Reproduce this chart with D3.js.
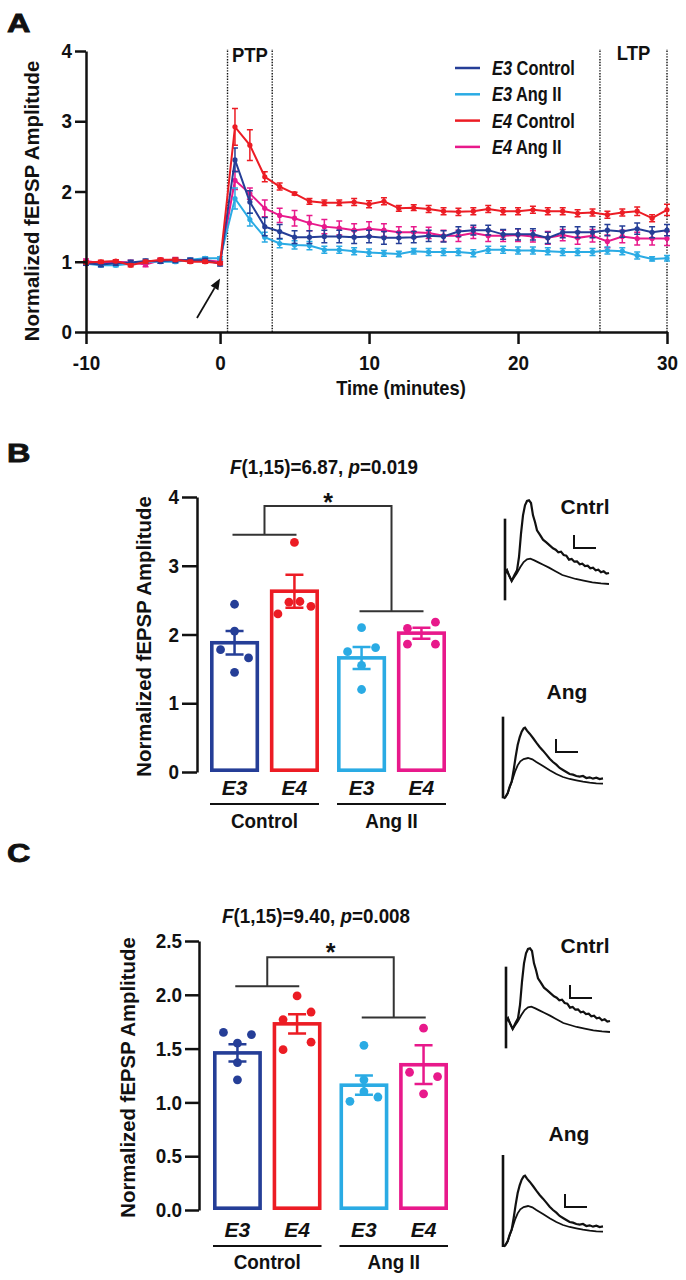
<!DOCTYPE html>
<html>
<head>
<meta charset="utf-8">
<script src="https://cdn.jsdelivr.net/npm/d3@7"></script>
<style>
    body { margin: 0; background: #fff; }
    svg text { font-family: "Liberation Sans", Arial, Helvetica, sans-serif; font-weight: bold; fill: #111; }
</style>
</head>
<body>
<div id="chart"></div>
<script>
(function() {

    // ---------- panel A: time course (mean, SEM) ----------
    var timePoints = [-9, -8, -7, -6, -5, -4, -3, -2, -1, 0,
        1, 2, 3, 4, 5, 6, 7, 8, 9, 10, 11, 12, 13, 14, 15, 16, 17, 18, 19, 20,
        21, 22, 23, 24, 25, 26, 27, 28, 29, 30];

    var e3ControlMean = [0.98, 0.96, 0.98, 0.99, 1.01, 1.01, 1.02, 1.02, 1.02, 0.97,
        2.45, 1.85, 1.50, 1.43, 1.35, 1.35, 1.36, 1.36, 1.35, 1.36,
        1.34, 1.34, 1.35, 1.37, 1.36, 1.43, 1.45, 1.45, 1.39, 1.39,
        1.39, 1.34, 1.42, 1.42, 1.42, 1.45, 1.43, 1.47, 1.42, 1.45];
    var e3ControlSem = [0.03, 0.03, 0.03, 0.03, 0.03, 0.03, 0.03, 0.03, 0.03, 0.03,
        0.17, 0.16, 0.13, 0.10, 0.09, 0.09, 0.09, 0.09, 0.09, 0.09,
        0.09, 0.08, 0.08, 0.08, 0.08, 0.07, 0.07, 0.07, 0.07, 0.08,
        0.08, 0.08, 0.08, 0.08, 0.08, 0.08, 0.08, 0.08, 0.08, 0.08];

    var e3AngMean = [0.97, 0.95, 0.95, 0.97, 1.00, 1.00, 1.00, 1.03, 1.05, 1.05,
        1.90, 1.60, 1.35, 1.26, 1.24, 1.23, 1.17, 1.17, 1.15, 1.13,
        1.12, 1.11, 1.15, 1.14, 1.14, 1.14, 1.12, 1.17, 1.17, 1.16,
        1.16, 1.15, 1.14, 1.14, 1.14, 1.16, 1.15, 1.09, 1.04, 1.05];
    var e3AngSem = [0.02, 0.02, 0.02, 0.02, 0.02, 0.02, 0.02, 0.02, 0.02, 0.02,
        0.15, 0.09, 0.07, 0.06, 0.06, 0.06, 0.05, 0.05, 0.05, 0.05,
        0.04, 0.04, 0.04, 0.05, 0.05, 0.05, 0.05, 0.05, 0.05, 0.05,
        0.05, 0.05, 0.05, 0.05, 0.05, 0.05, 0.05, 0.05, 0.03, 0.04];

    var e4ControlMean = [0.99, 1.00, 1.01, 0.95, 1.00, 1.03, 1.03, 1.00, 1.00, 0.98,
        2.92, 2.66, 2.21, 2.07, 1.97, 1.86, 1.84, 1.84, 1.85, 1.82,
        1.86, 1.76, 1.77, 1.75, 1.72, 1.71, 1.72, 1.75, 1.72, 1.72,
        1.74, 1.72, 1.72, 1.69, 1.70, 1.67, 1.70, 1.72, 1.62, 1.74];
    var e4ControlSem = [0.02, 0.02, 0.02, 0.02, 0.02, 0.02, 0.02, 0.02, 0.02, 0.02,
        0.26, 0.22, 0.07, 0.05, 0.02, 0.04, 0.04, 0.04, 0.05, 0.05,
        0.05, 0.04, 0.04, 0.05, 0.05, 0.05, 0.05, 0.05, 0.05, 0.05,
        0.05, 0.05, 0.05, 0.05, 0.05, 0.05, 0.05, 0.06, 0.05, 0.08];

    var e4AngMean = [1.01, 0.98, 1.00, 0.99, 0.96, 1.02, 1.03, 1.02, 1.02, 1.00,
        2.16, 1.97, 1.76, 1.66, 1.62, 1.55, 1.50, 1.48, 1.45, 1.47,
        1.45, 1.42, 1.42, 1.41, 1.37, 1.37, 1.41, 1.37, 1.37, 1.38,
        1.36, 1.34, 1.38, 1.34, 1.37, 1.29, 1.36, 1.33, 1.33, 1.33];
    var e4AngSem = [0.03, 0.03, 0.03, 0.03, 0.03, 0.03, 0.03, 0.03, 0.03, 0.03,
        0.13, 0.08, 0.12, 0.10, 0.11, 0.11, 0.10, 0.10, 0.09, 0.10,
        0.09, 0.08, 0.08, 0.08, 0.08, 0.08, 0.08, 0.08, 0.08, 0.09,
        0.08, 0.09, 0.08, 0.09, 0.09, 0.09, 0.09, 0.09, 0.09, 0.10];

    var timeTicks = [-9, 0, 10, 20, 30];
    var windowEdges = [0.5, 3.5, 25.5, 30];

    // ---------- panels B and C: bars, individual slices ----------
    var groups = ["Control", "Ang II"];
    var genotypes = ["E3", "E4"];

    var ptpMean = [1.88, 2.63, 1.66, 2.02];
    var ptpSem = [0.17, 0.24, 0.16, 0.08];
    var ptpPoints = [
        [1.78, 1.45, 2.05, 2.44, 1.66],
        [2.30, 2.47, 3.34, 2.48, 2.41],
        [1.75, 1.20, 2.10, 1.55, 1.81],
        [2.09, 1.86, 2.18, 1.86]
    ];

    var ltpMean = [1.46, 1.73, 1.16, 1.35];
    var ltpSem = [0.08, 0.09, 0.09, 0.18];
    var ltpPoints = [
        [1.65, 1.55, 1.37, 1.21, 1.63],
        [1.77, 1.49, 1.99, 1.56, 1.84],
        [1.01, 1.53, 1.21, 1.10, 1.05],
        [1.28, 1.69, 1.08, 1.24]
    ];

    // representative fEPSP traces, [time, voltage] in arbitrary units
    var cntrlBig = [[0, 10], [6, 20], [12, 5], [20, -12], [28, 5], [36, 20], [42, 60], [48, 130],
        [54, 185], [60, 215], [66, 228], [72, 230], [78, 222], [84, 185], [90, 165], [96, 140],
        [104, 128], [114, 112], [124, 104], [134, 95], [144, 86], [152, 82], [160, 74], [168, 76],
        [176, 66], [184, 64], [192, 52], [200, 54], [208, 46], [216, 47], [224, 38], [232, 40],
        [240, 33], [248, 34], [256, 26], [264, 28], [272, 20], [280, 22], [288, 14], [296, 17],
        [304, 10], [312, 12]];
    var cntrlSmall = [[0, 10], [6, 20], [12, 5], [20, -12], [28, 0], [36, 12], [46, 30], [56, 45],
        [66, 53], [76, 55], [88, 50], [100, 44], [116, 36], [132, 28], [150, 18], [172, 6],
        [192, 0], [212, -6], [236, -11], [262, -16], [288, -19], [312, -21]];
    var angBig = [[3, -56], [8, -50], [14, -40], [20, -20], [26, -5], [32, 30], [38, 70], [44, 105],
        [50, 128], [56, 145], [62, 155], [66, 157], [72, 148], [80, 139], [90, 126], [100, 112],
        [110, 99], [120, 88], [130, 76], [140, 64], [150, 54], [160, 46], [170, 36], [180, 30],
        [190, 24], [200, 18], [210, 16], [220, 12], [230, 10], [240, 12], [250, 6], [260, 8],
        [270, 4], [280, 7], [290, 3], [300, 5]];
    var angSmall = [[3, -56], [8, -50], [14, -40], [20, -22], [28, 0], [36, 25], [44, 44], [52, 56],
        [62, 63], [75, 66], [88, 62], [100, 54], [120, 42], [140, 29], [160, 18], [180, 9],
        [200, 3], [220, -1], [240, -5], [260, -8], [280, -10], [300, -11]];

    var colors = {
        "E3 Control": "#253e97",
        "E3 Ang II": "#2aabe4",
        "E4 Control": "#ec1c24",
        "E4 Ang II": "#e8198b"
    };

    var svg = d3.select("#chart")
        .append("svg")
        .attr("width", 686)
        .attr("height", 1280);

    drawTimeCourse();

    drawBarPanel({
        letter: "B", letterY: 462,
        means: ptpMean, sems: ptpSem, points: ptpPoints,
        yDomain: [0, 4], yRange: [772, 497], yTicks: [0, 1, 2, 3, 4], yFormat: d3.format("d"),
        axisX: 197, xRange: [210, 446], tickSize: 15,
        titleX: 324, titleY: 474, stat: ["(1,15)=6.87, ", "=0.019"],
        bracket: [3.45, 3.87, 2.34], starY: 511,
        genoY: 795, lineY: 804, groupY: 828, yLabelX: 151
    });
    drawBarPanel({
        letter: "C", letterY: 862,
        means: ltpMean, sems: ltpSem, points: ltpPoints,
        yDomain: [0, 2.5], yRange: [1210, 941], yTicks: [0, 0.5, 1, 1.5, 2, 2.5], yFormat: d3.format(".1f"),
        axisX: 199, xRange: [213, 448], tickSize: 14,
        titleX: 316, titleY: 923, stat: ["(1,15)=9.40, ", "=0.008"],
        bracket: [2.08, 2.35, 1.79], starY: 961,
        genoY: 1237, lineY: 1246, groupY: 1269, yLabelX: 135
    });

    drawTrace({ artX: 505, baseY: 577, art: [175, -70], big: cntrlBig, small: cntrlSmall,
        label: "Cntrl", labelX: 585, labelY: 514, bar: [574, 535] });
    drawTrace({ artX: 503, baseY: 780, art: [190, -55], big: angBig, small: angSmall,
        label: "Ang", labelX: 567, labelY: 699, bar: [556, 739] });
    drawTrace({ artX: 506, baseY: 1025, art: [175, -70], big: cntrlBig, small: cntrlSmall,
        label: "Cntrl", labelX: 585, labelY: 953, bar: [570, 985] });
    drawTrace({ artX: 503, baseY: 1228, art: [219, -57], big: angBig, small: angSmall,
        label: "Ang", labelX: 569, labelY: 1141, bar: [565, 1194] });

    // the figure uses a slightly condensed bold face: squeeze text horizontally
    // (scale along the text direction, keeping the anchor point in place)
    function squeeze(sel, k) {
        sel.each(function() {
            var t = d3.select(this);
            var x = +(t.attr("x") || 0);
            var tr = t.attr("transform") || "";
            t.attr("x", x / k).attr("transform", tr + " scale(" + k + ",1)");
        });
    }

    // make d3 axes look like the Prism ones
    function styleAxis(g, size) {
        g.attr("font-size", size).attr("font-family", null);
        g.selectAll("path, line").attr("stroke", "#111").attr("stroke-width", 2.5);
        g.selectAll("text").attr("fill", "#111");
        squeeze(g.selectAll("text"), 0.9);
    }

    function panelLetter(letter, y) {
        svg.append("text")
            .attr("transform", "translate(7," + y + ") scale(1.3,1)")
            .attr("font-size", 25)
            .attr("stroke", "#111")
            .attr("stroke-width", 0.8)
            .text(letter);
    }

    // centred text placed through a transform so it can be squeezed
    function label(g, x, y, size, txt) {
        return g.append("text")
            .attr("transform", "translate(" + x + "," + y + ")")
            .attr("text-anchor", "middle")
            .attr("font-size", size)
            .text(txt);
    }

    function drawTimeCourse() {

        var x = d3.scaleLinear().domain([-9, 30]).range([86, 667]);
        var y = d3.scaleLinear().domain([0, 4]).range([332, 51]);

        var g = svg.append("g");

        panelLetter("A", 32);

        // dotted PTP and LTP windows
        g.selectAll(".window")
            .data(windowEdges)
            .enter()
            .append("line")
            .attr("x1", function(d) { return x(d); })
            .attr("x2", function(d) { return x(d); })
            .attr("y1", y(0))
            .attr("y2", y(4) - 2)
            .attr("stroke", "#111")
            .attr("stroke-width", 1.4)
            .attr("stroke-dasharray", "1.4,1.4");

        squeeze(label(g, x((windowEdges[0] + windowEdges[1]) / 2), 62, 21, "PTP"), 0.88);
        squeeze(label(g, x((windowEdges[2] + windowEdges[3]) / 2), 60, 21, "LTP"), 0.88);

        var series = [
            { name: "E4 Ang II", mean: e4AngMean, sem: e4AngSem },
            { name: "E3 Ang II", mean: e3AngMean, sem: e3AngSem },
            { name: "E3 Control", mean: e3ControlMean, sem: e3ControlSem },
            { name: "E4 Control", mean: e4ControlMean, sem: e4ControlSem }
        ];

        var line = d3.line()
            .x(function(d) { return x(d.t); })
            .y(function(d) { return y(d.v); });

        series.forEach(function(s) {
            var pts = timePoints.map(function(t, i) { return { t: t, v: s.mean[i], e: s.sem[i] }; });
            var c = colors[s.name];
            var sg = g.append("g");

            sg.selectAll("path.err")
                .data(pts)
                .enter()
                .append("path")
                .attr("d", function(d) {
                    var cx = x(d.t), y0 = y(d.v - d.e), y1 = y(d.v + d.e);
                    return "M" + cx + "," + y0 + "V" + y1 +
                        "M" + (cx - 3) + "," + y1 + "h6" +
                        "M" + (cx - 3) + "," + y0 + "h6";
                })
                .attr("stroke", c)
                .attr("stroke-width", 1.5)
                .attr("fill", "none");

            sg.append("path")
                .datum(pts)
                .attr("d", line)
                .attr("fill", "none")
                .attr("stroke", c)
                .attr("stroke-width", 2);

            sg.selectAll("circle")
                .data(pts)
                .enter()
                .append("circle")
                .attr("cx", function(d) { return x(d.t); })
                .attr("cy", function(d) { return y(d.v); })
                .attr("r", 2.6)
                .attr("fill", c);
        });

        // arrow pointing to the tetanus
        var tail = [x(-1.55), y(0.2)], tip = [x(0), y(0.76)];
        var ang = Math.atan2(tip[1] - tail[1], tip[0] - tail[0]);
        var hl = 11, hw = 4.5;
        var base = [tip[0] - hl * Math.cos(ang), tip[1] - hl * Math.sin(ang)];
        g.append("line")
            .attr("x1", tail[0]).attr("y1", tail[1])
            .attr("x2", base[0]).attr("y2", base[1])
            .attr("stroke", "#111").attr("stroke-width", 1.8);
        g.append("path")
            .attr("d", "M" + tip[0] + "," + tip[1] +
                "L" + (base[0] + hw * Math.sin(ang)) + "," + (base[1] - hw * Math.cos(ang)) +
                "L" + (base[0] - hw * Math.sin(ang)) + "," + (base[1] + hw * Math.cos(ang)) + "Z")
            .attr("fill", "#111");

        // legend
        var legendNames = ["E3 Control", "E3 Ang II", "E4 Control", "E4 Ang II"];
        var legend = g.append("g")
            .selectAll("g")
            .data(legendNames)
            .enter()
            .append("g")
            .attr("transform", function(d, i) { return "translate(455," + (68 + i * 26.3) + ")"; });
        legend.append("line")
            .attr("x1", 0).attr("x2", 25)
            .attr("stroke", function(d) { return colors[d]; })
            .attr("stroke-width", 2.5);
        var lt = legend.append("text")
            .attr("transform", "translate(37,7)")
            .attr("font-size", 20);
        lt.append("tspan").attr("font-style", "italic").text(function(d) { return d.split(" ")[0]; });
        lt.append("tspan").text(function(d) { return " " + d.split(" ").slice(1).join(" "); });
        squeeze(lt, 0.82);

        // axes
        var xAxis = g.append("g")
            .attr("transform", "translate(0," + y(0) + ")")
            .call(d3.axisBottom(x)
                .tickValues(timeTicks)
                .tickFormat(function(d) { return d === -9 ? "-10" : d; })
                .tickSize(12)
                .tickPadding(11)
                .tickSizeOuter(0));
        styleAxis(xAxis, 21);

        var yAxis = g.append("g")
            .attr("transform", "translate(" + x(-9) + ",0)")
            .call(d3.axisLeft(y)
                .tickValues([0, 1, 2, 3, 4])
                .tickFormat(d3.format("d"))
                .tickSize(11)
                .tickPadding(3)
                .tickSizeOuter(0));
        styleAxis(yAxis, 21);

        squeeze(label(g, 401, 395, 21, "Time (minutes)"), 0.87);

        var yt = g.append("text")
            .attr("transform", "translate(39,201) rotate(-90)")
            .attr("text-anchor", "middle").attr("font-size", 21)
            .text("Normalized fEPSP Amplitude");
        squeeze(yt, 0.97);
    }

    // spread close points sideways, keeping the array order left to right
    function swarm(values, y) {
        var order = values.map(function(v, i) { return { v: v, i: i, py: y(v) }; })
            .sort(function(a, b) { return a.py - b.py; });
        var rows = [], cur = [];
        order.forEach(function(p, k) {
            if (k > 0 && p.py - order[k - 1].py >= 10) { rows.push(cur); cur = []; }
            cur.push(p);
        });
        rows.push(cur);
        var out = [];
        rows.forEach(function(row) {
            row.sort(function(a, b) { return a.i - b.i; });
            var n = row.length;
            var step = n > 1 ? Math.max(11, 28 / (n - 1)) : 0;
            row.forEach(function(p, j) {
                out.push({ v: p.v, dx: (j - (n - 1) / 2) * step });
            });
        });
        return out;
    }

    function drawBarPanel(p) {

        var y = d3.scaleLinear().domain(p.yDomain).range(p.yRange);
        var xGroup = d3.scaleBand().domain(groups).range(p.xRange).paddingInner(0.142);
        var xGeno = d3.scaleBand().domain(genotypes).range([0, xGroup.bandwidth()]).paddingInner(0.18);

        var g = svg.append("g");

        panelLetter(p.letter, p.letterY);

        var cells = [];
        groups.forEach(function(gr) {
            genotypes.forEach(function(ge) {
                cells.push({ group: gr, geno: ge });
            });
        });
        cells.forEach(function(c, i) {
            c.mean = p.means[i];
            c.sem = p.sems[i];
            c.points = p.points[i];
            c.color = colors[c.geno + " " + c.group];
            c.x0 = xGroup(c.group) + xGeno(c.geno);
            c.cx = c.x0 + xGeno.bandwidth() / 2;
        });

        var sw = 3.6;
        g.selectAll("rect")
            .data(cells)
            .enter()
            .append("rect")
            .attr("x", function(d) { return d.x0 + sw / 2; })
            .attr("width", xGeno.bandwidth() - sw)
            .attr("y", function(d) { return y(d.mean); })
            .attr("height", function(d) { return y(0) - y(d.mean) - sw / 2; })
            .attr("fill", "#fff")
            .attr("stroke", function(d) { return d.color; })
            .attr("stroke-width", sw);

        g.selectAll("path.err")
            .data(cells)
            .enter()
            .append("path")
            .attr("d", function(d) {
                var y0 = y(d.mean - d.sem), y1 = y(d.mean + d.sem);
                return "M" + d.cx + "," + y0 + "V" + y1 +
                    "M" + (d.cx - 9) + "," + y1 + "h18" +
                    "M" + (d.cx - 9) + "," + y0 + "h18";
            })
            .attr("fill", "none")
            .attr("stroke", function(d) { return d.color; })
            .attr("stroke-width", 2.5);

        cells.forEach(function(c) {
            g.append("g")
                .selectAll("circle")
                .data(swarm(c.points, y))
                .enter()
                .append("circle")
                .attr("cx", function(d) { return c.cx + d.dx; })
                .attr("cy", function(d) { return y(d.v); })
                .attr("r", 4.4)
                .attr("fill", c.color);
        });

        // significance bracket for the interaction
        var cCtrl = xGroup("Control") + xGroup.bandwidth() / 2;
        var cAng = xGroup("Ang II") + xGroup.bandwidth() / 2;
        var b = p.bracket;
        g.append("path")
            .attr("d", "M" + (cCtrl - 32) + "," + y(b[0]) + "H" + (cCtrl + 32) +
                "M" + cCtrl + "," + y(b[0]) + "V" + y(b[1]) + "H" + cAng + "V" + y(b[2]) +
                "M" + (cAng - 32) + "," + y(b[2]) + "H" + (cAng + 32))
            .attr("fill", "none")
            .attr("stroke", "#333")
            .attr("stroke-width", 2);
        label(g, (cCtrl + cAng) / 2, p.starY, 25, "*");

        var title = label(g, p.titleX, p.titleY, 20, null);
        title.append("tspan").attr("font-style", "italic").text("F");
        title.append("tspan").text(p.stat[0]);
        title.append("tspan").attr("font-style", "italic").text("p");
        title.append("tspan").text(p.stat[1]);
        squeeze(title, 0.94);

        // genotype and treatment labels
        cells.forEach(function(c) {
            label(g, c.cx, p.genoY, 21, c.geno).attr("font-style", "italic");
        });

        g.selectAll("line.group")
            .data(groups)
            .enter()
            .append("line")
            .attr("x1", function(d) { return xGroup(d); })
            .attr("x2", function(d) { return xGroup(d) + xGroup.bandwidth(); })
            .attr("y1", p.lineY).attr("y2", p.lineY)
            .attr("stroke", "#111").attr("stroke-width", 2);

        groups.forEach(function(gr) {
            squeeze(label(g, xGroup(gr) + xGroup.bandwidth() / 2, p.groupY, 21, gr), 0.9);
        });

        var yAxis = g.append("g")
            .attr("transform", "translate(" + p.axisX + ",0)")
            .call(d3.axisLeft(y)
                .tickValues(p.yTicks)
                .tickFormat(p.yFormat)
                .tickSize(p.tickSize)
                .tickPadding(3)
                .tickSizeOuter(0));
        styleAxis(yAxis, 21);

        var yt = g.append("text")
            .attr("transform", "translate(" + p.yLabelX + "," + ((p.yRange[0] + p.yRange[1]) / 2 + 2) + ") rotate(-90)")
            .attr("text-anchor", "middle").attr("font-size", 21)
            .text("Normalized fEPSP Amplitude");
        squeeze(yt, 0.97);
    }

    function drawTrace(cfg) {

        var x = d3.scaleLinear().domain([0, 300]).range([cfg.artX, cfg.artX + 100]);
        var y = d3.scaleLinear().domain([0, 300]).range([cfg.baseY, cfg.baseY - 100]);
        var g = svg.append("g");

        var line = d3.line()
            .x(function(d) { return x(d[0]); })
            .y(function(d) { return y(d[1]); });

        g.append("line")
            .attr("x1", x(0)).attr("x2", x(0))
            .attr("y1", y(cfg.art[0])).attr("y2", y(cfg.art[1]))
            .attr("stroke", "#111").attr("stroke-width", 2.6);

        g.append("path").datum(cfg.small).attr("d", line)
            .attr("fill", "none").attr("stroke", "#111").attr("stroke-width", 1.8);
        g.append("path").datum(cfg.big).attr("d", line)
            .attr("fill", "none").attr("stroke", "#111").attr("stroke-width", 2.2);

        // scale bar
        g.append("path")
            .attr("d", "M" + cfg.bar[0] + "," + cfg.bar[1] + "v13h22")
            .attr("fill", "none").attr("stroke", "#111").attr("stroke-width", 2);

        label(g, cfg.labelX, cfg.labelY, 21, cfg.label);
    }

})();
</script>
</body>
</html>
